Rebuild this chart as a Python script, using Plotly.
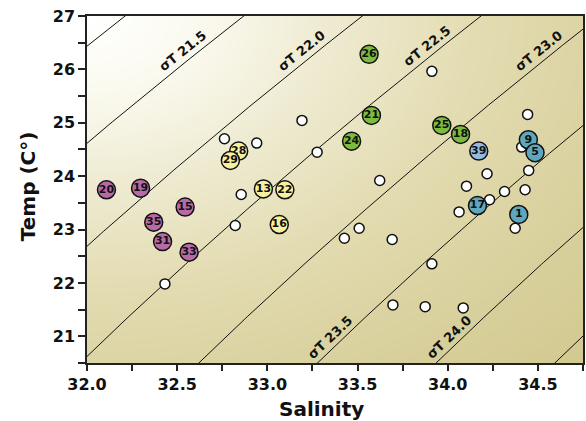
import numpy as np
import plotly.graph_objects as go

# ---- station observations: salinity (psu) and temperature (deg C) ----
plain_sal = [32.762, 32.941, 33.192, 33.276, 32.855, 32.822, 32.432, 33.912,
             34.443, 34.410, 33.623, 34.218, 34.104, 34.449, 34.315, 34.429,
             34.232, 34.063, 34.374, 33.509, 33.427, 33.692, 33.912, 33.696,
             33.875, 34.086]
plain_temp = [24.70, 24.62, 25.044, 24.45, 23.657, 23.075, 21.982, 25.963,
              25.157, 24.544, 23.919, 24.045, 23.812, 24.107, 23.713, 23.745,
              23.557, 23.33, 23.025, 23.025, 22.837, 22.813, 22.357, 21.588,
              21.556, 21.532]

purple_ids = ["20", "19", "15", "35", "31", "33"]
purple_sal = [32.108, 32.297, 32.544, 32.370, 32.419, 32.566]
purple_temp = [23.745, 23.775, 23.42, 23.137, 22.775, 22.575]

yellow_ids = ["28", "29", "13", "22", "16"]
yellow_sal = [32.841, 32.795, 32.978, 33.097, 33.066]
yellow_temp = [24.47, 24.294, 23.76, 23.745, 23.094]

green_ids = ["26", "21", "24", "25", "18"]
green_sal = [33.564, 33.577, 33.467, 33.967, 34.071]
green_temp = [26.282, 25.138, 24.656, 24.951, 24.782]

sky_ids = ["39"]
sky_sal = [34.172]
sky_temp = [24.469]

teal_ids = ["9", "5", "17", "1"]
teal_sal = [34.447, 34.484, 34.165, 34.394]
teal_temp = [24.682, 24.439, 23.45, 23.282]

# ---- isopycnals (sigma-T) ----
sigma_levels = [21.0, 21.5, 22.0, 22.5, 23.0, 23.5, 24.0, 24.5]
label_levels = [21.5, 22.0, 22.5, 23.0, 23.5, 24.0]
label_temps = [26.2, 26.2, 26.3, 26.2, 20.85, 20.85]

# simplified equation of state: sigma = C0 + BETA*S - A1*(T-24) - A2*(T-24)^2
C0, BETA, A1, A2 = -2.656, 0.76, 0.262, 0.0042


def sal_on_isopycnal(sigma, t):
    t = np.asarray(t, dtype=float)
    return (sigma - C0 + A1 * (t - 24) + A2 * (t - 24) ** 2) / BETA


X_RANGE = [32.0, 34.75]
Y_RANGE = [20.5, 27.0]
W, H = 586, 421
M = dict(l=87, r=1, t=16, b=58)
plot_w = W - M["l"] - M["r"]
plot_h = H - M["t"] - M["b"]
px_per_s = plot_w / (X_RANGE[1] - X_RANGE[0])
px_per_t = plot_h / (Y_RANGE[1] - Y_RANGE[0])

FONT = "DejaVu Sans"
fig = go.Figure()

# background gradient (white in upper-left fading to khaki)
gx = np.linspace(31.95, 34.80, 90)
gy = np.linspace(20.40, 27.10, 90)
U, V = np.meshgrid((gx - X_RANGE[0]) / (X_RANGE[1] - X_RANGE[0]),
                   (Y_RANGE[1] - gy) / (Y_RANGE[1] - Y_RANGE[0]))
dist = np.sqrt(U ** 2 + V ** 2)
fig.add_trace(go.Heatmap(
    x=gx, y=gy, z=dist, zmin=0, zmax=1.42, zsmooth="best", showscale=False,
    hoverinfo="skip",
    colorscale=[[0.0, "#ffffff"], [0.15, "#fbfaf0"], [0.35, "#eeead0"],
                [0.55, "#e3dcb2"], [0.75, "#dad2a0"], [1.0, "#d2c990"]]))

# isopycnal lines
tt = np.linspace(Y_RANGE[0] - 0.2, Y_RANGE[1] + 0.2, 200)
for s in sigma_levels:
    fig.add_trace(go.Scatter(
        x=sal_on_isopycnal(s, tt), y=tt, mode="lines",
        line=dict(color="#111111", width=1), hoverinfo="skip", showlegend=False))

# isopycnal labels, sitting just above their lines
for s, t in zip(label_levels, label_temps):
    slope = BETA / (A1 + 2 * A2 * (t - 24))
    ang = np.degrees(np.arctan(slope * px_per_t / px_per_s))
    off = 10
    fig.add_annotation(
        x=float(sal_on_isopycnal(s, t)), y=t, text=f"σT {s:.1f}", showarrow=False,
        textangle=-ang, xshift=-off * np.sin(np.radians(ang)),
        yshift=off * np.cos(np.radians(ang)),
        font=dict(family=FONT, size=13, color="#111111", weight="bold"))

# unlabeled stations
fig.add_trace(go.Scatter(
    x=plain_sal, y=plain_temp, mode="markers", hoverinfo="skip", showlegend=False,
    marker=dict(size=10, color="#ffffff", line=dict(color="#111111", width=1.5))))

# numbered stations by group; one trace per station so each number stacks
# with its own circle
for ids, sal, temp, col in [
        (purple_ids, purple_sal, purple_temp, "#b86aa8"),
        (yellow_ids, yellow_sal, yellow_temp, "#f7f09e"),
        (green_ids, green_sal, green_temp, "#7dbb3e"),
        (sky_ids, sky_sal, sky_temp, "#92bbe2"),
        (teal_ids, teal_sal, teal_temp, "#5ea7bd")]:
    for lab, sv, tv in zip(ids, sal, temp):
        fig.add_trace(go.Scatter(
            x=[sv], y=[tv], mode="markers+text", text=[lab],
            textposition="middle center",
            textfont=dict(family=FONT, size=11, color="#111111", weight="bold"),
            hoverinfo="skip", showlegend=False,
            marker=dict(size=18, color=col, line=dict(color="#111111", width=1.5))))

x_ticks = list(np.arange(32.0, 34.751, 0.25))
x_text = [f"{v:.1f}" if abs(v * 2 - round(v * 2)) < 1e-9 else "" for v in x_ticks]
y_ticks = list(np.arange(20.5, 27.01, 0.5))
y_text = [f"{v:.0f}" if abs(v - round(v)) < 1e-9 else "" for v in y_ticks]

axis_common = dict(showgrid=False, zeroline=False, showline=True, mirror=True,
                   linecolor="#222222", linewidth=1.5, ticks="outside",
                   tickwidth=1.5, tickcolor="#222222",
                   tickfont=dict(family=FONT, size=16, color="#111111", weight="bold"))

fig.update_xaxes(range=X_RANGE, tickvals=x_ticks, ticktext=x_text, ticklen=6,
                 **axis_common)
fig.update_yaxes(range=Y_RANGE, tickvals=y_ticks, ticktext=y_text, ticklen=7,
                 **axis_common)

fig.add_annotation(x=(322 - M["l"]) / plot_w, y=-(409 - (H - M["b"])) / plot_h,
                   xref="paper", yref="paper", xanchor="center", yanchor="middle",
                   text="Salinity", showarrow=False,
                   font=dict(family=FONT, size=20, color="#111111", weight="bold"))
fig.add_annotation(x=(28 - M["l"]) / plot_w, y=((H - M["b"]) - 186) / plot_h,
                   xref="paper", yref="paper", xanchor="center", yanchor="middle",
                   text="Temp (C°)", showarrow=False, textangle=-90,
                   font=dict(family=FONT, size=20, color="#111111", weight="bold"))

fig.update_layout(width=W, height=H, margin=M, paper_bgcolor="#ffffff",
                  plot_bgcolor="#ffffff", showlegend=False)

fig.write_html("out.html")
